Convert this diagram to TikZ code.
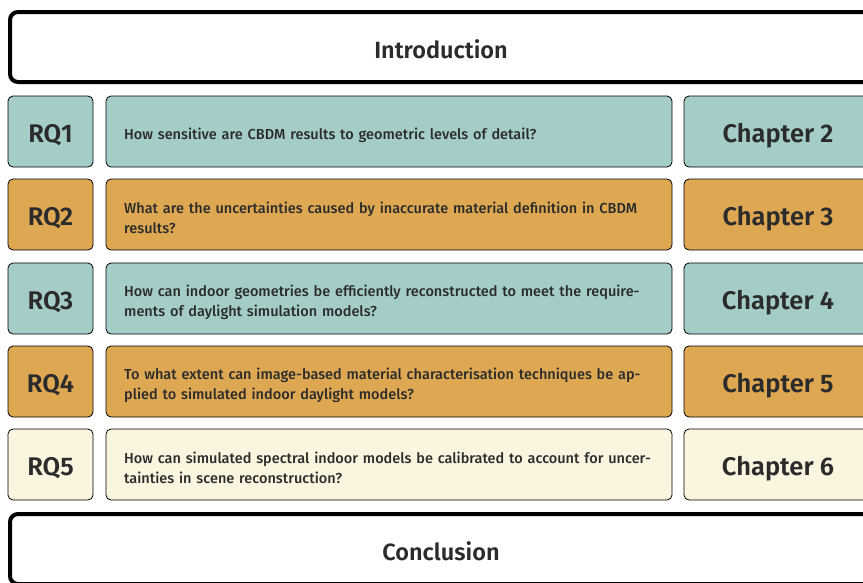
\documentclass[tikz,border=0pt]{standalone}
\usepackage{fontspec}
\setmainfont{Fira Sans}[BoldFont={Fira Sans Medium}]
\newfontfamily\semib{Fira Sans SemiBold}
\definecolor{tealc}{HTML}{A4CDC7}
\definecolor{orangec}{HTML}{DEA853}
\definecolor{creamc}{HTML}{FAF5DE}
\definecolor{txt}{HTML}{2B2B2B}
\begin{document}
\begin{tikzpicture}[x=1pt,y=-1pt,
  bigbox/.style={draw=black,line width=4pt,rounded corners=8pt,fill=white,minimum width=862pt,minimum height=70pt,inner sep=0pt,text=txt,text height=22.5pt,text depth=0pt,font=\fontsize{23.5}{27}\selectfont\semib},
  rqbox/.style={draw=black,line width=0.8pt,rounded corners=5pt,minimum width=85pt,minimum height=71pt,inner sep=0pt,text=txt,text height=22pt,text depth=0pt,font=\fontsize{25.5}{30}\selectfont\semib},
  qbox/.style={draw=black,line width=0.8pt,rounded corners=5pt,minimum width=566pt,minimum height=71pt,inner sep=0pt},
  chbox/.style={draw=black,line width=0.8pt,rounded corners=5pt,minimum width=188pt,minimum height=71pt,inner sep=0pt,text=txt,text height=22pt,text depth=0pt,font=\fontsize{25.5}{30}\selectfont\semib},
  qtext/.style={align=left,text width=540pt,anchor=west,text=txt,font=\fontsize{14.5}{20}\selectfont\bfseries,inner sep=0pt}
]
\useasboundingbox (0,0) rectangle (863,582);
\clip (0,0) rectangle (863,582);
\node[bigbox] (intro) at (441,47) {Introduction};
\node[bigbox] (concl) at (441,549) {Conclusion};
% rows
\node[rqbox,fill=tealc] (rq1) at (50.5,131.5) {RQ1};
\node[qbox,fill=tealc] (q1) at (389,131.5) {};
\node[qtext] (t1) at (124,135) {How sensitive are CBDM results to geometric levels of detail?};
\node[chbox,fill=tealc] (ch2) at (778,131.5) {Chapter 2};

\node[rqbox,fill=orangec] (rq2) at (50.5,214.5) {RQ2};
\node[qbox,fill=orangec] (q2) at (389,214.5) {};
\node[qtext] (t2) at (124,218) {What are the uncertainties caused by inaccurate material definition in CBDM\\results?};
\node[chbox,fill=orangec] (ch3) at (778,214.5) {Chapter 3};

\node[rqbox,fill=tealc] (rq3) at (50.5,298.5) {RQ3};
\node[qbox,fill=tealc] (q3) at (389,298.5) {};
\node[qtext] (t3) at (124,302) {How can indoor geometries be efficiently reconstructed to meet the require-\\ments of daylight simulation models?};
\node[chbox,fill=tealc] (ch4) at (778,298.5) {Chapter 4};

\node[rqbox,fill=orangec] (rq4) at (50.5,381.5) {RQ4};
\node[qbox,fill=orangec] (q4) at (389,381.5) {};
\node[qtext] (t4) at (124,385) {To what extent can image-based material characterisation techniques be ap-\\plied to simulated indoor daylight models?};
\node[chbox,fill=orangec] (ch5) at (778,381.5) {Chapter 5};

\node[rqbox,fill=creamc] (rq5) at (50.5,464.5) {RQ5};
\node[qbox,fill=creamc] (q5) at (389,464.5) {};
\node[qtext] (t5) at (124,468) {How can simulated spectral indoor models be calibrated to account for uncer-\\tainties in scene reconstruction?};
\node[chbox,fill=creamc] (ch6) at (778,464.5) {Chapter 6};
\end{tikzpicture}
\end{document}
